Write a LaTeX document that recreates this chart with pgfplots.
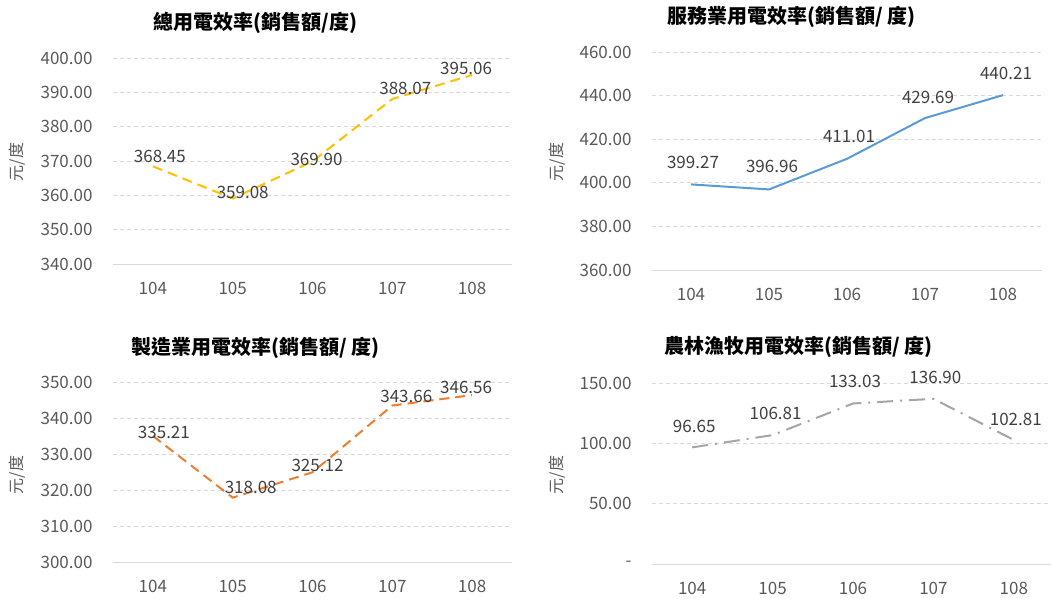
\documentclass[border=0pt]{standalone}
\usepackage{pgfplots}
\usepackage{pgfplotstable}
\pgfplotsset{compat=1.18}
\usepackage{fontspec}
\setmainfont{Noto Sans CJK TC}

\definecolor{tickgray}{HTML}{595959}
\definecolor{labgray}{HTML}{404040}
\definecolor{gridgray}{HTML}{D9D9D9}
\definecolor{cyellow}{HTML}{FFC000}
\definecolor{cblue}{HTML}{5B9BD5}
\definecolor{corange}{HTML}{ED7D31}
\definecolor{cgray}{HTML}{A5A5A5}

% x y dx dy lab  (dx, dy = label offset from the point, pt)
\pgfplotstableread{
x y dx dy lab
0 368.45 7 10 368.45
1 359.08 10 6.5 359.08
2 369.90 4 1.5 369.90
3 388.07 13 11 388.07
4 395.06 -6 7 395.06
}\totaldata
\pgfplotstableread{
x y dx dy lab
0 399.27 2 22 399.27
1 396.96 3 22.5 396.96
2 411.01 2 22 411.01
3 429.69 3 21 429.69
4 440.21 3 22 440.21
}\servdata
\pgfplotstableread{
x y dx dy lab
0 335.21 11 4 335.21
1 318.08 18 10 318.08
2 325.12 5 6.5 325.12
3 343.66 14 9 343.66
4 346.56 -6 7.5 346.56
}\manudata
\pgfplotstableread{
x y dx dy lab
0 96.65 2 21 96.65
1 106.81 3 22 106.81
2 133.03 2 22 133.03
3 136.90 2 21.5 136.90
4 102.81 2 21 102.81
}\agridata

\pgfplotsset{
  panel/.style={
    scale only axis,
    anchor=south west,
    clip=false,
    xmin=-0.5, xmax=4.5,
    xtick={0,1,2,3,4},
    xticklabels={104,105,106,107,108},
    axis x line*=bottom,
    axis y line*=left,
    x axis line style={draw=gridgray, line width=0.8pt},
    y axis line style={draw=none},
    tick style={draw=none},
    ymajorgrids=true,
    major grid style={draw=gridgray, line width=0.8pt, dash pattern=on 4pt off 3pt},
    ticklabel style={font=\fontsize{17}{20}\selectfont, text=tickgray},
    yticklabel style={anchor=east, xshift=-17pt},
    xticklabel style={anchor=center, yshift=-24pt},
    point meta=explicit symbolic,
    nodes near coords,
    visualization depends on={\thisrow{dx} \as \dx},
    visualization depends on={\thisrow{dy} \as \dy},
    nodes near coords style={anchor=center, xshift=\dx pt, yshift=\dy pt,
      font=\fontsize{17}{20}\selectfont, text=labgray, inner sep=0pt},
  },
}
\tikzset{
  ttl/.style={font=\bfseries\fontsize{20}{23}\selectfont, text=black},
  ylab/.style={font=\fontsize{16}{19}\selectfont, text=tickgray, rotate=90},
}

\begin{document}
\begin{tikzpicture}[x=1pt,y=1pt]
\useasboundingbox (0,0) rectangle (1051,598);

% 總用電效率
\begin{axis}[panel, at={(113pt,334pt)}, width=399pt, height=206pt,
  ymin=340, ymax=400, ytick={340,350,...,400},
  yticklabels={340.00,350.00,360.00,370.00,380.00,390.00,400.00}]
\addplot[cyellow, line width=2pt, dash pattern=on 10pt off 6pt]
  table[x=x, y=y, meta=lab] {\totaldata};
\end{axis}

% 服務業
\begin{axis}[panel, at={(652pt,328pt)}, width=390pt, height=218pt,
  ymin=360, ymax=460, ytick={360,380,...,460},
  yticklabels={360.00,380.00,400.00,420.00,440.00,460.00}]
\addplot[cblue, line width=2pt]
  table[x=x, y=y, meta=lab] {\servdata};
\end{axis}

% 製造業
\begin{axis}[panel, at={(113pt,35.3pt)}, width=399pt, height=180pt,
  ymin=300, ymax=350, ytick={300,310,...,350},
  yticklabels={300.00,310.00,320.00,330.00,340.00,350.00}]
\addplot[corange, line width=2pt, dash pattern=on 10pt off 6pt]
  table[x=x, y=y, meta=lab] {\manudata};
\end{axis}

% 農林漁牧
\begin{axis}[panel, at={(652pt,34pt)}, width=402pt, height=181pt,
  ymin=0, ymax=150, ytick={0,50,100,150},
  yticklabels={-\hspace{10pt},50.00,100.00,150.00}]
\addplot[cgray, line width=2pt, dash pattern=on 16pt off 7pt on 2pt off 7pt]
  table[x=x, y=y, meta=lab] {\agridata};
\end{axis}

\node[ttl] at (255.7,574.7) {總用電效率(銷售額/度)};
\node[ttl] at (791.7,580.7) {服務業用電效率(銷售額/ 度)};
\node[ttl] at (255.7,249.7) {製造業用電效率(銷售額/ 度)};
\node[ttl] at (798.3,251.3) {農林漁牧用電效率(銷售額/ 度)};

\node[ylab] at (17,436) {元/度};
\node[ylab] at (557,436) {元/度};
\node[ylab] at (17,123) {元/度};
\node[ylab] at (557,123) {元/度};
\end{tikzpicture}
\end{document}
